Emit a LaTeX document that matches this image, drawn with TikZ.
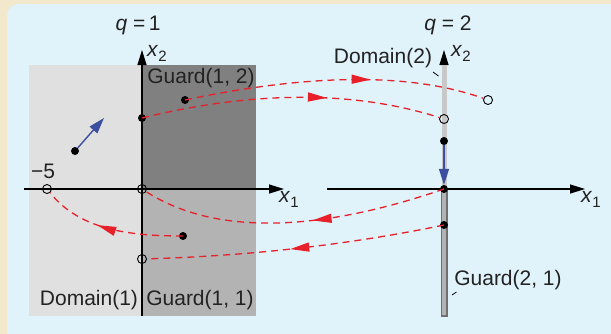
\documentclass[tikz,border=0pt]{standalone}
\usepackage{fontspec}
\setmainfont{Liberation Sans}
\usetikzlibrary{arrows.meta,decorations.markings}
\definecolor{beige}{HTML}{F2E8CC}
\definecolor{panel}{HTML}{E0F2FA}
\definecolor{lgray}{HTML}{E0E0E0}
\definecolor{dgray}{HTML}{808080}
\definecolor{mgray}{HTML}{B3B3B3}
\definecolor{bandgray}{HTML}{C8C8C8}
\definecolor{rimgray}{HTML}{707070}
\definecolor{myred}{HTML}{E8202A}
\definecolor{myblue}{HTML}{3A4FA0}
\definecolor{txt}{HTML}{222222}
\tikzset{
  dot/.style={circle,fill=black,inner sep=0pt,minimum size=8pt},
  odot/.style={circle,draw=black,line width=0.9pt,inner sep=0pt,minimum size=9pt},
  lbl/.style={text=txt,font=\fontsize{21}{23}\selectfont,inner sep=0pt},
  axis/.style={line width=1.2pt,-{Triangle[length=15pt,width=9pt]}},
  jump/.style={myred,line width=1.3pt,dash pattern=on 7pt off 5pt},
  flow/.style={myblue,line width=1.4pt,-{Triangle[length=16pt,width=10pt]}},
  redtip/.style={postaction={decorate,decoration={markings,
     mark=at position #1 with {\arrow{Triangle[length=19pt,width=9pt]}}}}}
}
\begin{document}
\begin{tikzpicture}[x=1pt,y=-1pt]
\useasboundingbox (0,0) rectangle (611,333);
\clip (0,0) rectangle (611,333);
\fill[beige] (-5,-5) rectangle (620,340);
\fill[panel,rounded corners=12pt] (7,4) rectangle (625,345);

% regions q=1
\fill[lgray] (29,65) rectangle (142,316);
\fill[dgray] (142,65) rectangle (256,189);
\fill[mgray] (142,189) rectangle (256,316);

% axes q=1
\coordinate (L2b) at (142,316);
\coordinate (L2t) at (142,50);
\coordinate (L1l) at (24,189);
\coordinate (L1r) at (284,189);
\draw[axis] (L2b) -- (L2t);
\draw[axis] (L1l) -- (L1r);

% axes q=2
\coordinate (R2b) at (444,189);
\coordinate (R2t) at (444,50);
\coordinate (R1l) at (327,189);
\coordinate (R1r) at (585,189);
\draw[axis] (R2b) -- (R2t);
\fill[bandgray] (441.8,65) rectangle (446.6,189);
\draw[rimgray,fill=mgray,line width=1.5pt] (441.6,189) rectangle (446.8,316);
\draw[axis] (R1l) -- (R1r);

% labels
\node[lbl] (q1) at (138,25) {\textit{q}\ =\,1};
\node[lbl] (q2) at (448,25) {\textit{q}\ =\ 2};
\node[lbl,anchor=west] (lx2) at (147,53) {\textit{x}\raisebox{-0.45ex}{\fontsize{15}{15}\selectfont 2}};
\node[lbl,anchor=west] (lx1) at (279,199) {\textit{x}\raisebox{-0.45ex}{\fontsize{15}{15}\selectfont 1}};
\node[lbl,anchor=west] (rx2) at (451,53) {\textit{x}\raisebox{-0.45ex}{\fontsize{15}{15}\selectfont 2}};
\node[lbl,anchor=west] (rx1) at (581,199) {\textit{x}\raisebox{-0.45ex}{\fontsize{15}{15}\selectfont 1}};
\node[lbl] (g12) at (201,78) {Guard(1, 2)};
\node[lbl] (d1) at (89,300) {Domain(1)};
\node[lbl] (g11) at (200,300) {Guard(1, 1)};
\node[lbl] (m5) at (43,171) {−5};
\node[lbl] (d2) at (383,58) {Domain(2)};
\node[lbl] (g21) at (508,280) {Guard(2, 1)};
\coordinate (d2a) at (433,72);
\coordinate (d2b) at (438.5,76);
\draw[line width=0.8pt] (d2a) -- (d2b);
\coordinate (g21a) at (452,295);
\coordinate (g21b) at (456.5,292);
\draw[line width=0.8pt] (g21a) -- (g21b);

% states
\node[dot] (a1) at (185,100) {};
\node[dot] (a2) at (142,118) {};
\node[odot] (a3) at (142,189) {};
\node[odot] (a4) at (142,259) {};
\node[odot] (a5) at (47,189) {};
\node[dot] (a6) at (183,236) {};
\node[dot] (a7) at (75,151) {};
\coordinate (a7e) at (104,118);
\node[odot] (b1) at (488,100) {};
\node[odot] (b2) at (444,119) {};
\node[dot] (b3) at (444,141) {};
\node[dot] (b4) at (444,189) {};
\node[dot] (b5) at (444,225) {};

% flows
\draw[flow] (a7) -- (a7e);
\draw[flow] (b3) -- (b4);

% jumps
\draw[jump,redtip=0.62] (a1.center) .. controls (308,74) and (409,72) .. (b1);
\draw[jump,redtip=0.62] (a2.center) .. controls (252,91) and (353,90) .. (b2);
\draw[jump,redtip=0.44] (b4.center) .. controls (313,234) and (212,234) .. (a3);
\draw[jump,redtip=0.52] (b5.center) .. controls (348,245) and (247,256) .. (a4);
\draw[jump,redtip=0.6] (a6.center) .. controls (130,236) and (80,230) .. (a5);
\end{tikzpicture}
\end{document}
